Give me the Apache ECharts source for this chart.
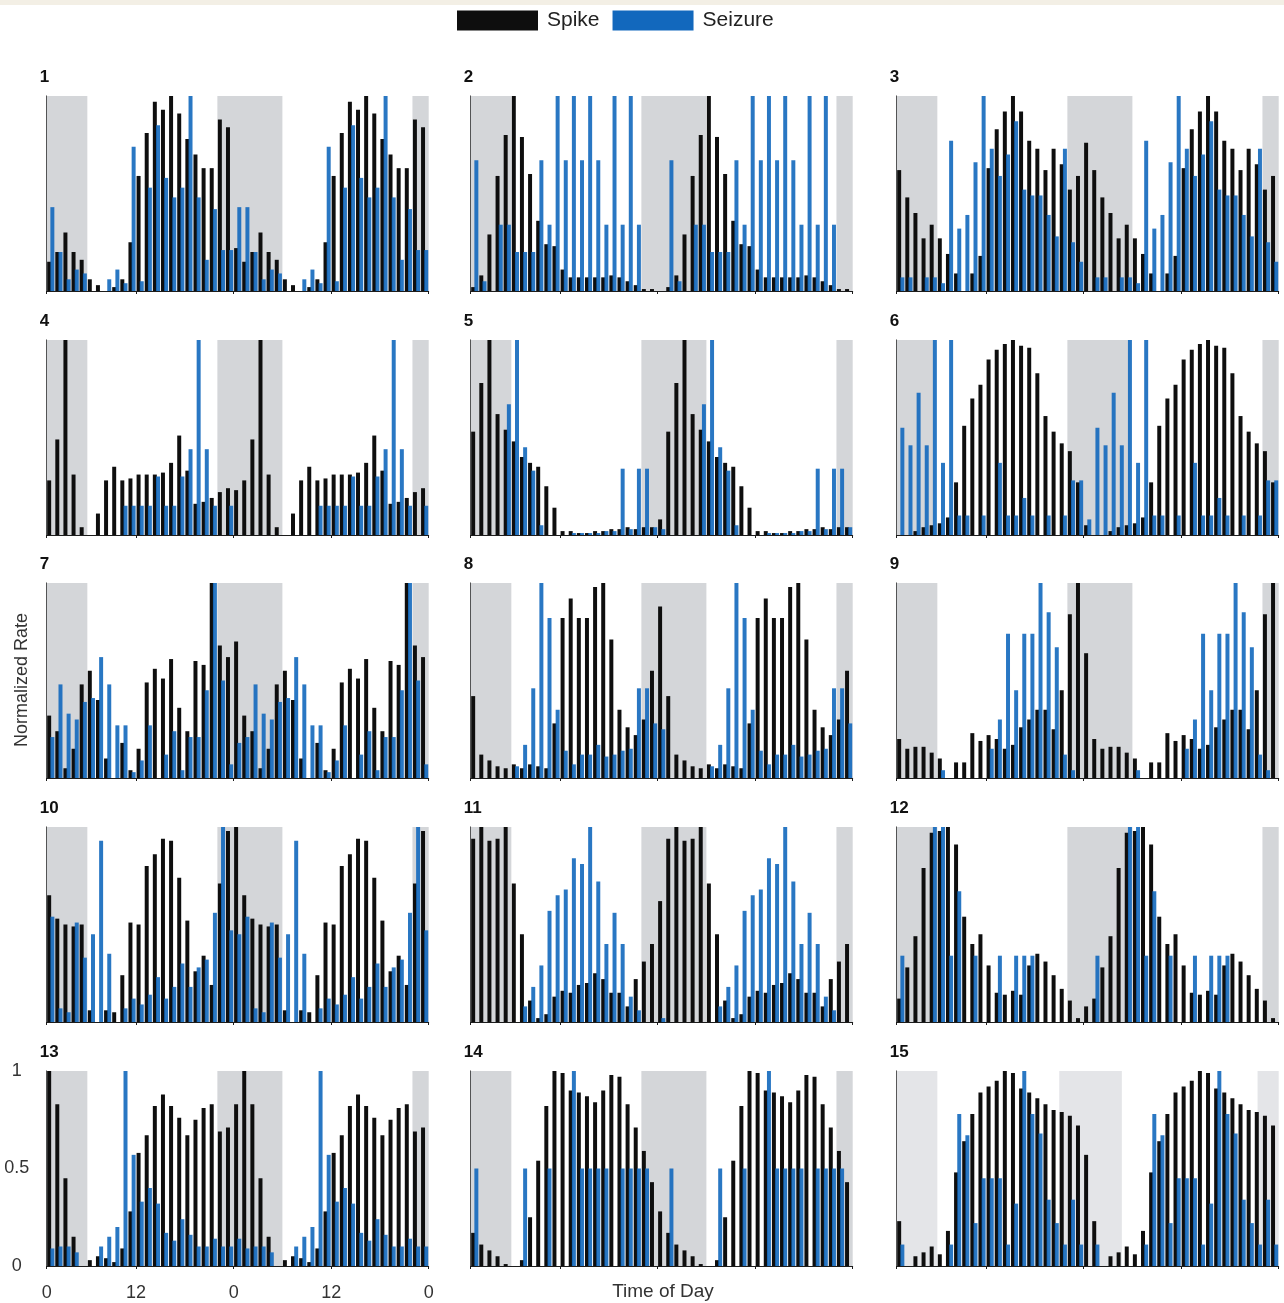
<!DOCTYPE html>
<html>
<head>
<meta charset="utf-8">
<script src="https://cdn.jsdelivr.net/npm/echarts@6/dist/echarts.min.js"></script>
<style>
  html, body { margin: 0; padding: 0; background: #ffffff; }
  #chart { width: 1284px; height: 1303px; }
</style>
</head>
<body>
<div id="chart"></div>
<script>
// Hourly normalized rates for one 24-hour day per patient (double-plotted below).
const spike1   = [0.15,0.20,0.30,0.20,0.16,0.06,0.03,0.00,0.02,0.06,0.25,0.59,0.81,0.97,0.93,1.00,0.91,0.78,0.70,0.63,0.63,0.88,0.84,0.22];
const seizure1 = [0.43,0.20,0.06,0.11,0.09,0.00,0.00,0.06,0.11,0.04,0.74,0.05,0.53,0.85,0.58,0.48,0.53,1.00,0.48,0.16,0.42,0.21,0.21,0.43];
const spike2   = [0.02,0.08,0.29,0.59,0.80,1.00,0.79,0.60,0.36,0.24,0.23,0.11,0.07,0.07,0.07,0.07,0.07,0.08,0.07,0.05,0.03,0.01,0.01,0.00];
const seizure2 = [0.67,0.05,0.00,0.34,0.34,0.20,0.20,0.20,0.67,0.34,1.00,0.67,1.00,0.67,1.00,0.67,0.34,1.00,0.34,1.00,0.34,0.00,0.00,0.00];
const spike3   = [0.62,0.48,0.40,0.27,0.34,0.27,0.19,0.09,0.00,0.09,0.18,0.63,0.83,0.92,1.00,0.92,0.77,0.73,0.62,0.73,0.65,0.52,0.59,0.76];
const seizure3 = [0.07,0.07,0.00,0.07,0.07,0.04,0.77,0.32,0.39,0.66,1.00,0.73,0.59,0.70,0.87,0.52,0.49,0.49,0.39,0.28,0.73,0.25,0.15,0.00];
const spike4   = [0.28,0.49,1.00,0.31,0.04,0.00,0.11,0.28,0.35,0.28,0.29,0.31,0.31,0.31,0.32,0.37,0.51,0.33,0.16,0.17,0.19,0.22,0.24,0.23];
const seizure4 = [0.00,0.00,0.00,0.00,0.00,0.00,0.00,0.00,0.00,0.15,0.15,0.15,0.15,0.30,0.15,0.15,0.30,0.44,1.00,0.44,0.15,0.00,0.15,0.00];
const spike5   = [0.53,0.78,1.00,0.62,0.54,0.48,0.40,0.37,0.35,0.25,0.14,0.02,0.02,0.01,0.01,0.02,0.02,0.03,0.03,0.04,0.03,0.04,0.04,0.08];
const seizure5 = [0.00,0.00,0.00,0.00,0.67,1.00,0.45,0.33,0.05,0.00,0.00,0.00,0.01,0.01,0.01,0.01,0.02,0.02,0.34,0.03,0.34,0.34,0.04,0.03];
const spike6   = [0.00,0.00,0.02,0.04,0.05,0.06,0.09,0.27,0.56,0.70,0.77,0.90,0.95,0.98,1.00,0.97,0.96,0.83,0.61,0.53,0.47,0.43,0.27,0.05];
const seizure6 = [0.55,0.46,0.73,0.46,1.00,0.37,1.00,0.10,0.10,0.00,0.10,0.00,0.37,0.10,0.10,0.19,0.10,0.00,0.10,0.00,0.10,0.28,0.28,0.08];
const spike7   = [0.32,0.24,0.05,0.15,0.48,0.55,0.40,0.10,0.00,0.18,0.04,0.15,0.49,0.56,0.51,0.61,0.36,0.24,0.60,0.58,1.00,0.68,0.62,0.70];
const seizure7 = [0.21,0.48,0.33,0.30,0.39,0.41,0.62,0.48,0.27,0.27,0.03,0.09,0.27,0.00,0.12,0.24,0.04,0.21,0.21,0.45,1.00,0.50,0.07,0.18];
const spike8   = [0.42,0.12,0.09,0.06,0.05,0.07,0.05,0.07,0.06,0.05,0.28,0.82,0.92,0.82,0.82,0.98,1.00,0.71,0.35,0.26,0.22,0.30,0.55,0.88];
const seizure8 = [0.00,0.00,0.00,0.00,0.00,0.06,0.17,0.46,1.00,0.82,0.35,0.14,0.07,0.12,0.12,0.17,0.11,0.12,0.14,0.15,0.46,0.46,0.28,0.25];
const spike9   = [0.20,0.15,0.16,0.16,0.13,0.10,0.00,0.08,0.08,0.23,0.19,0.22,0.20,0.15,0.17,0.26,0.30,0.35,0.35,0.25,0.45,0.84,1.00,0.64];
const seizure9 = [0.00,0.00,0.00,0.00,0.00,0.04,0.00,0.00,0.00,0.00,0.00,0.15,0.30,0.74,0.45,0.74,0.74,1.00,0.85,0.67,0.12,0.04,0.00,0.00];
const spike10   = [0.65,0.53,0.50,0.49,0.50,0.06,0.00,0.06,0.05,0.24,0.51,0.50,0.80,0.86,0.94,0.93,0.74,0.52,0.26,0.34,0.19,0.71,0.98,1.00];
const seizure10 = [0.54,0.07,0.05,0.51,0.33,0.45,0.93,0.35,0.00,0.07,0.12,0.09,0.14,0.23,0.12,0.18,0.30,0.18,0.28,0.32,0.56,1.00,0.47,0.45];
const spike11   = [0.94,1.00,0.93,0.94,1.00,0.71,0.45,0.11,0.02,0.04,0.13,0.16,0.15,0.19,0.20,0.25,0.22,0.15,0.15,0.08,0.22,0.31,0.40,0.62];
const seizure11 = [0.00,0.00,0.00,0.00,0.00,0.00,0.08,0.18,0.29,0.57,0.65,0.68,0.84,0.81,1.00,0.72,0.40,0.56,0.40,0.13,0.06,0.00,0.00,0.02];
const spike12   = [0.12,0.28,0.44,0.79,0.97,0.98,1.00,0.91,0.54,0.40,0.45,0.29,0.15,0.14,0.16,0.14,0.29,0.35,0.31,0.24,0.17,0.11,0.02,0.08];
const seizure12 = [0.34,0.00,0.00,0.00,1.00,1.00,0.34,0.67,0.00,0.34,0.00,0.00,0.34,0.00,0.34,0.34,0.34,0.00,0.00,0.00,0.00,0.00,0.00,0.00];
const spike13   = [1.00,0.83,0.45,0.15,0.00,0.03,0.05,0.04,0.02,0.09,0.28,0.58,0.67,0.82,0.88,0.82,0.76,0.67,0.75,0.81,0.83,0.69,0.71,0.83];
const seizure13 = [0.09,0.10,0.10,0.07,0.00,0.00,0.10,0.15,0.20,1.00,0.57,0.33,0.40,0.32,0.17,0.13,0.24,0.16,0.10,0.10,0.14,0.10,0.10,0.14];
const spike14   = [0.17,0.11,0.08,0.05,0.01,0.00,0.03,0.25,0.54,0.82,1.00,0.99,0.90,0.89,0.87,0.84,0.90,0.98,0.97,0.83,0.71,0.59,0.43,0.28];
const seizure14 = [0.50,0.00,0.00,0.00,0.00,0.00,0.50,0.00,0.00,0.50,0.00,0.00,1.00,0.50,0.50,0.50,0.50,0.00,0.50,0.50,0.50,0.50,0.00,0.00];
const spike15   = [0.23,0.00,0.05,0.07,0.10,0.06,0.18,0.48,0.64,0.78,0.89,0.92,0.95,1.00,0.99,0.91,0.89,0.86,0.83,0.80,0.79,0.77,0.72,0.57];
const seizure15 = [0.11,0.00,0.00,0.00,0.00,0.00,0.11,0.78,0.67,0.22,0.45,0.45,0.45,0.11,0.32,1.00,0.78,0.68,0.34,0.22,0.11,0.34,0.11,0.00];

// Dark (lights-off) periods in plotted hour bins.
const nightsStandard = [[0, 5], [21, 29], [45, 47]];
const nights6        = [[0, 4.5], [21, 28.7], [45, 47]];
const nights15       = [[0, 5], [20, 27.7], [44.4, 47]];

// Axis ticks.
const xTickPositions = [0, 11, 23, 35, 47];
const xTickLabels    = ['0', '12', '0', '12', '0'];
const yTickLabels    = ['0', '0.5', '1'];

const panels = [
  { id: 1,  spike: spike1,  seizure: seizure1,  nights: nightsStandard },
  { id: 2,  spike: spike2,  seizure: seizure2,  nights: nightsStandard },
  { id: 3,  spike: spike3,  seizure: seizure3,  nights: nightsStandard },
  { id: 4,  spike: spike4,  seizure: seizure4,  nights: nightsStandard },
  { id: 5,  spike: spike5,  seizure: seizure5,  nights: nightsStandard },
  { id: 6,  spike: spike6,  seizure: seizure6,  nights: nights6 },
  { id: 7,  spike: spike7,  seizure: seizure7,  nights: nightsStandard },
  { id: 8,  spike: spike8,  seizure: seizure8,  nights: nightsStandard },
  { id: 9,  spike: spike9,  seizure: seizure9,  nights: nightsStandard },
  { id: 10, spike: spike10, seizure: seizure10, nights: nightsStandard },
  { id: 11, spike: spike11, seizure: seizure11, nights: nightsStandard },
  { id: 12, spike: spike12, seizure: seizure12, nights: nightsStandard },
  { id: 13, spike: spike13, seizure: seizure13, nights: nightsStandard },
  { id: 14, spike: spike14, seizure: seizure14, nights: nightsStandard },
  { id: 15, spike: spike15, seizure: seizure15, nights: nights15 }
];

const BINS_SHOWN = 47;          // day 1 plus the first 23 hours of day 2
const FONT = '"Liberation Sans", Arial, Helvetica, sans-serif';
const AXIS_COLOR = '#1c1c1c';
const SPIKE_COLOR = '#0e0e0e';
const SEIZURE_COLOR = '#1268bd';

// Double-plot a 24-hour profile: [binCenter, value] pairs.
function doublePlot(day) {
  const seq = day.concat(day.slice(0, BINS_SHOWN - day.length));
  return seq.map((v, i) => [i + 0.5, v]);
}

// Panel layout
const colLeft = [46.7, 470.7, 896.7];
const rowTop = [96, 340, 583, 827, 1071];
const panelW = 382;
const panelH = 195;
const LABELLED = 12; // bottom-left panel carries the tick labels

const grids = [], xAxes = [], yAxes = [], series = [], graphics = [];

graphics.push({
  type: 'rect', shape: { x: 0, y: 0, width: 1284, height: 5 },
  style: { fill: '#f3efe5' }, silent: true
});

panels.forEach((p, i) => {
  const col = i % 3, row = Math.floor(i / 3);
  grids.push({ left: colLeft[col], top: rowTop[row], width: panelW, height: panelH });

  xAxes.push({
    gridIndex: i, type: 'value', min: 0, max: BINS_SHOWN,
    axisLine: { show: true, onZero: false, lineStyle: { color: AXIS_COLOR, width: 1 } },
    axisTick: { show: true, customValues: xTickPositions, length: 3, lineStyle: { color: AXIS_COLOR } },
    axisLabel: {
      show: i === LABELLED, customValues: xTickPositions,
      formatter: v => xTickLabels[xTickPositions.indexOf(v)],
      fontSize: 18, color: '#333', fontFamily: FONT, margin: 18
    },
    splitLine: { show: false }
  });

  yAxes.push({
    gridIndex: i, type: 'value', min: 0, max: 1, interval: 0.5,
    axisLine: { show: true, lineStyle: { color: AXIS_COLOR, width: 1 } },
    axisTick: { show: true, inside: true, length: 4, lineStyle: { color: AXIS_COLOR } },
    axisLabel: {
      show: i === LABELLED,
      formatter: v => yTickLabels[Math.round(v * 2)],
      fontSize: 18, color: '#333', fontFamily: FONT, margin: 30, align: 'center'
    },
    splitLine: { show: false }
  });

  const shade = p.id === 15 ? '#e4e5e8' : '#d4d6d9';

  series.push({
    type: 'bar', name: 'Spike', xAxisIndex: i, yAxisIndex: i,
    data: doublePlot(p.spike),
    barWidth: '49%', barGap: '-20%',
    itemStyle: { color: SPIKE_COLOR },
    emphasis: { disabled: true },
    markArea: {
      silent: true,
      itemStyle: { color: shade },
      data: p.nights.map(n => [{ xAxis: n[0] }, { xAxis: n[1] }])
    }
  });
  series.push({
    type: 'bar', name: 'Seizure', xAxisIndex: i, yAxisIndex: i,
    data: doublePlot(p.seizure),
    barWidth: '49%', barGap: '-20%',
    itemStyle: { color: SEIZURE_COLOR, opacity: 0.9 },
    emphasis: { disabled: true }
  });

  graphics.push({
    type: 'text', x: colLeft[col] - 7, y: rowTop[row] - 19, silent: true,
    style: {
      text: String(p.id), fontSize: 17, fontWeight: 'bold', fontFamily: FONT,
      fill: '#111', align: 'left', verticalAlign: 'middle'
    }
  });
});

graphics.push({
  type: 'text', x: 663, y: 1292, silent: true,
  style: { text: 'Time of Day', fontSize: 19, fontFamily: FONT, fill: '#333', align: 'center', verticalAlign: 'middle' }
});
graphics.push({
  type: 'text', x: 22, y: 680, rotation: Math.PI / 2, silent: true,
  style: { text: 'Normalized Rate', fontSize: 18, fontFamily: FONT, fill: '#333', align: 'center', verticalAlign: 'middle' }
});

const chart = echarts.init(document.getElementById('chart'), null, { renderer: 'canvas' });
chart.setOption({
  animation: false,
  backgroundColor: '#ffffff',
  legend: {
    data: [
      { name: 'Spike', itemStyle: { color: SPIKE_COLOR } },
      { name: 'Seizure', itemStyle: { color: SEIZURE_COLOR, opacity: 1 } }
    ],
    left: 452, top: 5,
    icon: 'rect', itemWidth: 81, itemHeight: 20, itemGap: 13,
    textStyle: { fontSize: 21, color: '#222', fontFamily: FONT, padding: [0, 0, 0, 4] },
    selectedMode: false
  },
  grid: grids,
  xAxis: xAxes,
  yAxis: yAxes,
  series: series,
  graphic: graphics
});
</script>
</body>
</html>
